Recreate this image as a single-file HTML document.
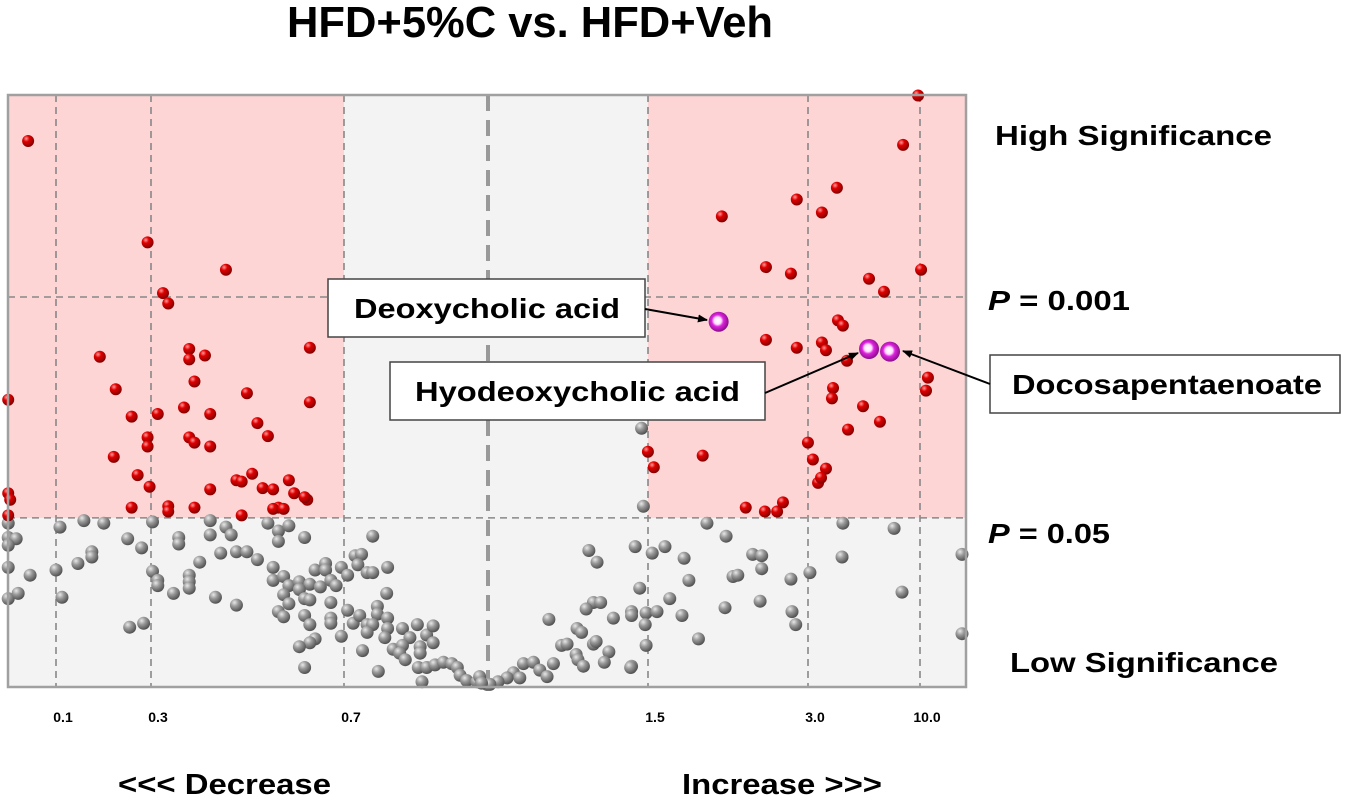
<!DOCTYPE html>
<html><head><meta charset="utf-8"><style>
body{margin:0;background:#fff;width:1350px;height:798px;overflow:hidden;font-family:"Liberation Sans",Arial,sans-serif}
svg text{font-family:"Liberation Sans",Arial,sans-serif;font-weight:bold;fill:#000}
</style></head><body>
<svg id="chart" width="1350" height="798" viewBox="0 0 1350 798" xmlns="http://www.w3.org/2000/svg">
<defs>
<radialGradient id="gRed" cx="0.35" cy="0.3" r="0.75"><stop offset="0" stop-color="#ff9a9a"/><stop offset="0.35" stop-color="#e00000"/><stop offset="1" stop-color="#7a0000"/></radialGradient>
<radialGradient id="gGray" cx="0.35" cy="0.3" r="0.75"><stop offset="0" stop-color="#e8e8e8"/><stop offset="0.4" stop-color="#9a9a9a"/><stop offset="1" stop-color="#4a4a4a"/></radialGradient>
<radialGradient id="gMag" cx="0.45" cy="0.45" r="0.6"><stop offset="0" stop-color="#ffffff"/><stop offset="0.3" stop-color="#ffe0ff"/><stop offset="0.5" stop-color="#dd22dd"/><stop offset="1" stop-color="#7a0a7a"/></radialGradient>
<marker id="arr" markerWidth="10" markerHeight="10" refX="9" refY="5" orient="auto" markerUnits="userSpaceOnUse"><path d="M0,1 L10,5 L0,9 z" fill="#000"/></marker>
</defs>
<text x="287" y="37" font-size="44" textLength="486" lengthAdjust="spacingAndGlyphs">HFD+5%C vs. HFD+Veh</text>
<g id="bg"></g><g id="grid"></g><g id="pts"></g>
<rect x="8" y="95" width="958" height="592" fill="none" stroke="#a0a0a0" stroke-width="2.5"/>
<g id="ticks"></g>
<text x="995" y="145" font-size="28" textLength="277" lengthAdjust="spacingAndGlyphs">High Significance</text>
<text x="988" y="310" font-size="28" textLength="142" lengthAdjust="spacingAndGlyphs"><tspan font-style="italic">P</tspan> = 0.001</text>
<text x="988" y="543" font-size="28" textLength="122" lengthAdjust="spacingAndGlyphs"><tspan font-style="italic">P</tspan> = 0.05</text>
<text x="1010" y="672" font-size="28" textLength="268" lengthAdjust="spacingAndGlyphs">Low Significance</text>
<text x="118" y="794" font-size="29" textLength="213" lengthAdjust="spacingAndGlyphs">&lt;&lt;&lt; Decrease</text>
<text x="682" y="794" font-size="29" textLength="200" lengthAdjust="spacingAndGlyphs">Increase &gt;&gt;&gt;</text>
<g>
<rect x="328" y="279" width="317" height="58" fill="#fff" stroke="#444" stroke-width="1.5"/>
<text x="354" y="318" font-size="28" textLength="266" lengthAdjust="spacingAndGlyphs">Deoxycholic acid</text>
<line x1="645" y1="309" x2="707" y2="320" stroke="#000" stroke-width="2" marker-end="url(#arr)"/></g>
<g>
<rect x="390" y="362" width="375" height="58" fill="#fff" stroke="#444" stroke-width="1.5"/>
<text x="415" y="401" font-size="28" textLength="325" lengthAdjust="spacingAndGlyphs">Hyodeoxycholic acid</text>
<line x1="765" y1="393" x2="858" y2="353" stroke="#000" stroke-width="2" marker-end="url(#arr)"/></g>
<g>
<rect x="990" y="355" width="350" height="58" fill="#fff" stroke="#444" stroke-width="1.5"/>
<text x="1012" y="394" font-size="28" textLength="310" lengthAdjust="spacingAndGlyphs">Docosapentaenoate</text>
<line x1="990" y1="384" x2="903" y2="351" stroke="#000" stroke-width="2" marker-end="url(#arr)"/></g>
</svg>
<script>
// x: log10 fold change, y: -log10 p
const tickFolds=[0.1,0.3,0.7,1.0,1.5,3.0,10.0];
const tickLabels=["0.1","0.3","0.7","","1.5","3.0","10.0"];
const pThresholds=[0.001,0.05];
const sigLfc=[-0.155,0.176];
const redX=[-1.24,-1.24,-1.23,-1.24,-1.14,-0.54,-0.50,-0.49,-0.38,-0.78,-0.70,-0.71,-0.62,-0.59,-0.54,-0.53,-0.51,-0.54,-0.45,-0.45,-0.42,-0.44,-0.46,-0.45,-0.44,-0.41,-0.41,-0.62,-0.49,-0.49,-0.44,-0.41,-0.36,-0.35,-0.35,-0.34,-0.32,-0.30,-0.33,-0.31,-0.29,-0.26,-0.25,-0.28,-0.29,-0.27,-0.225,-0.22,-0.22,-0.23,
0.315,0.456,0.612,0.542,0.398,0.445,0.991,0.921,1.005,0.762,0.832,0.617,0.640,0.398,0.456,0.542,0.561,0.659,1.037,1.028,0.594,0.589,0.734,0.813,0.664,0.477,0.279,0.176,0.187,0.500,0.561,0.524,0.538,0.360,0.396,0.419,0.430];
const redY=[2.21,1.49,1.44,1.32,4.20,3.42,3.03,2.95,3.21,2.54,2.29,1.77,2.08,1.63,1.92,1.54,2.10,1.85,2.60,2.52,2.55,2.35,2.15,1.92,1.88,2.10,1.52,1.38,1.39,1.35,1.38,1.85,1.59,1.58,1.32,2.26,2.03,1.93,1.64,1.53,1.52,1.59,1.49,1.38,1.37,1.37,1.44,2.61,2.19,1.46,
3.62,3.75,3.84,3.65,3.23,3.18,4.55,4.17,3.21,3.14,3.04,2.82,2.78,2.67,2.61,2.65,2.59,2.51,2.38,2.28,2.30,2.22,2.16,2.04,1.98,1.88,1.78,1.81,1.69,1.75,1.68,1.57,1.61,1.38,1.35,1.35,1.42];
const grayX=[-1.24,-0.98,-0.86,-0.76,-0.52,-0.41,-0.38,-0.30,-0.28,-0.26,-1.24,-1.20,-1.24,-0.64,-0.57,-0.47,-0.47,-0.41,-0.37,-0.28,-0.23,-0.124,-0.82,-0.82,-0.89,-1.24,-1.13,-1.00,-0.39,-0.36,-0.34,-0.32,-0.43,-0.52,-0.51,-0.51,-0.45,-0.45,-0.45,-0.48,-0.40,-0.36,-1.24,-1.19,-0.97,-0.63,-0.56,-0.29,-0.29,-0.27,-0.26,-0.24,-0.22,-0.24,-0.27,-0.26,-0.23,-0.22,-0.21,-0.19,-0.19,-0.20,-0.18,-0.17,-0.16,-0.151,-0.143,-0.136,-0.140,-0.130,-0.124,-0.108,-0.109,-0.18,-0.28,-0.27,-0.23,-0.22,-0.18,-0.18,-0.151,-0.145,-0.138,-0.130,-0.119,-0.119,-0.124,-0.130,-0.108,-0.108,-0.111,-0.16,-0.21,-0.22,-0.24,-0.23,-0.135,-0.118,-0.102,-0.092,-0.084,-0.092,-0.095,-0.089,-0.076,-0.073,-0.073,-0.066,-0.059,-0.059,-0.075,-0.066,-0.057,-0.048,-0.071,-0.039,-0.033,-0.030,-0.023,-0.012,-0.001,-0.009,
0.287,0.323,0.640,0.879,0.111,0.120,0.162,0.184,0.208,0.244,0.373,0.390,0.390,0.336,0.345,0.253,0.636,0.486,0.445,1.196,0.167,0.217,0.116,0.124,0.108,0.067,0.138,0.158,0.158,0.174,0.193,0.173,0.240,0.321,0.387,0.447,0.454,0.916,1.196,0.098,0.103,0.081,0.087,0.116,0.119,0.133,0.174,0.271,0.097,0.099,0.105,0.128,0.158,0.157,0.072,0.039,0.050,0.057,0.065,0.028,0.035,0.021,0.011,0.002,-0.007,0.171,0.169];
const grayY=[1.26,1.23,1.28,1.26,1.27,1.28,1.23,1.26,1.20,1.24,1.15,1.14,1.09,1.14,1.07,1.15,1.10,1.17,1.17,1.12,1.15,1.16,1.04,1.00,0.95,0.92,0.86,0.90,1.03,1.04,1.04,0.98,0.96,0.89,0.82,0.78,0.86,0.81,0.76,0.72,0.69,0.63,0.68,0.72,0.69,0.46,0.49,0.92,0.82,0.85,0.78,0.81,0.79,0.75,0.71,0.64,0.68,0.67,0.90,0.95,0.90,0.77,0.82,0.78,0.92,0.86,1.01,1.02,0.94,0.88,0.88,0.92,0.72,0.65,0.58,0.54,0.55,0.48,0.53,0.49,0.59,0.49,0.55,0.48,0.62,0.56,0.48,0.42,0.53,0.45,0.38,0.39,0.37,0.34,0.31,0.15,0.28,0.12,0.29,0.45,0.38,0.32,0.26,0.21,0.48,0.31,0.26,0.40,0.47,0.34,0.15,0.15,0.17,0.19,0.04,0.18,0.15,0.09,0.05,0.04,0.02,0.08,
1.26,1.16,1.26,1.22,1.05,0.96,1.08,1.03,1.08,0.99,1.02,1.01,0.91,0.85,0.86,0.82,1.00,0.88,0.83,1.02,0.76,0.68,0.65,0.65,0.60,0.52,0.53,0.58,0.55,0.57,0.58,0.48,0.55,0.61,0.66,0.58,0.48,0.73,0.41,0.45,0.42,0.32,0.33,0.33,0.35,0.27,0.32,0.37,0.25,0.21,0.16,0.19,0.16,0.15,0.18,0.18,0.19,0.13,0.08,0.11,0.07,0.07,0.04,0.02,0.03,1.39,1.99];
const hiNames=["Deoxycholic acid","Hyodeoxycholic acid","Docosapentaenoate"];
const hiX=[0.309,0.762,0.860];
const hiY=[2.81,2.60,2.58];

// layout
const tickPx=[56,151,344,488,648,808,920];
const L=8,R=966,T=95,B=687,Y_PER=130;
function xs(lfc){
  const lv=tickFolds.map(Math.log10);
  let i=0;
  if(lfc<=lv[0]) i=0; else if(lfc>=lv[lv.length-1]) i=lv.length-2;
  else { while(lfc>lv[i+1]) i++; }
  return tickPx[i]+(lfc-lv[i])/(lv[i+1]-lv[i])*(tickPx[i+1]-tickPx[i]);
}
function ys(v){return B-v*Y_PER;}
const NS='http://www.w3.org/2000/svg';
function mk(tag,attrs,parent){const e=document.createElementNS(NS,tag);for(const k in attrs)e.setAttribute(k,attrs[k]);parent.appendChild(e);return e;}
const bg=document.getElementById('bg'),grid=document.getElementById('grid'),pts=document.getElementById('pts'),ticks=document.getElementById('ticks');
const yLo=ys(-Math.log10(pThresholds[1])), yHi=ys(-Math.log10(pThresholds[0]));
let r=mk('rect',{x:L,y:T,width:R-L,height:B-T,fill:'#f3f3f3'},bg);


r=mk('rect',{x:L,y:T,width:xs(sigLfc[0])-L,height:yLo-T,fill:'#fdd5d5'},bg);


r=mk('rect',{x:xs(sigLfc[1]),y:T,width:R-xs(sigLfc[1]),height:yLo-T,fill:'#fdd5d5'},bg);


tickFolds.forEach((f,i)=>{
  const x=xs(Math.log10(f));
  const center=(f===1);
  const ln=mk('line',{x1:x,y1:T,x2:x,y2:B,stroke:center?'#999':'#888','stroke-width':center?4:1.6,'stroke-dasharray':center?'16,9':'7,5'},grid);
  
  
  if(tickLabels[i]){
    const t=mk('text',{x:x+7,y:722,'font-size':14,'text-anchor':'middle'},ticks);
    t.textContent=tickLabels[i];
    
    
  }
});
[yHi,yLo].forEach(y=>{
  const ln=mk('line',{x1:L,y1:y,x2:R,y2:y,stroke:'#888','stroke-width':1.6,'stroke-dasharray':'7,5'},grid);
  
  
});
grayX.forEach((v,i)=>{
  const c=mk('circle',{cx:xs(v),cy:ys(grayY[i]),r:6.5,fill:'url(#gGray)'},pts);
  
  
});
redX.forEach((v,i)=>{
  const c=mk('circle',{cx:xs(v),cy:ys(redY[i]),r:6,fill:'url(#gRed)'},pts);
  
  
});
hiX.forEach((v,i)=>{
  const c=mk('circle',{cx:xs(v),cy:ys(hiY[i]),r:10,fill:'url(#gMag)'},pts);
  
  
});
</script>
</body></html>
